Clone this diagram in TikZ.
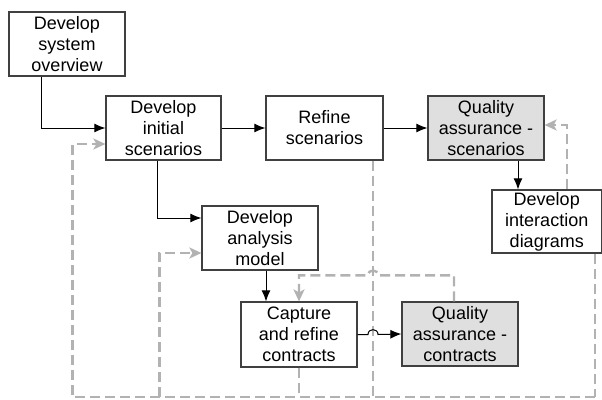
\documentclass[tikz,border=0pt]{standalone}
\usepackage{fontspec}
\setmainfont{Liberation Sans}
\usetikzlibrary{arrows.meta,calc}
\begin{document}
\begin{tikzpicture}[x=1pt,y=-1pt,
 box/.style={draw=black!75, line width=1.2pt, fill=white, align=center, inner sep=0pt,
   font=\fontsize{18}{21}\selectfont, minimum width=116pt, minimum height=64pt},
 qa/.style={box, fill=gray!25},
 flow/.style={draw=black, line width=1pt, -{Latex[length=11pt,width=9pt]}},
 fb/.style={draw=black!30, line width=2.4pt, dash pattern=on 10pt off 5pt},
 fbarrow/.style={fb, -{Stealth[length=12pt,width=11pt,inset=3pt]}},
]
\useasboundingbox (0,0) rectangle (602,399);

\node[box] (overview) at (67,44) {Develop\\system\\overview};
\node[box, minimum width=115pt] (initial) at (163.5,128) {Develop\\initial\\scenarios};
\node[box, minimum width=117pt] (refine) at (324.5,128) {Refine\\scenarios};
\node[qa] (qas) at (486,128) {Quality\\assurance -\\scenarios};
\node[box, minimum width=109.5pt, minimum height=63pt] (interact) at (546.75,221.5) {Develop\\interaction\\diagrams};
\node[box] (analysis) at (260,238) {Develop\\analysis\\model};
\node[box, minimum height=65pt] (capture) at (299,334.5) {Capture\\and refine\\contracts};
\node[qa] (qac) at (460,334) {Quality\\assurance -\\contracts};

% helper coordinates
\coordinate (bus) at (0,397);
\coordinate (o1) at ($(overview.south)+(-25.3,0)$);
\coordinate (i1) at ($(initial.south)+(-6.5,0)$);
\coordinate (a1) at ($(analysis.south)+(6,0)$);
\coordinate (q1) at ($(qas.south)+(32,0)$);
\coordinate (r1) at ($(refine.south)+(48.5,0)$);
\coordinate (d1) at ($(interact.south)+(48.25,0)$);
\coordinate (g1) at ($(interact.north)+(20.25,0)$);
\coordinate (g2) at ($(qas.east)+(0,-3)$);
\coordinate (e1) at ($(initial.west)+(0,16)$);
\coordinate (e1b) at ($(e1)+(-33,0)$);
\coordinate (e2) at ($(analysis.west)+(0,15)$);
\coordinate (e2b) at ($(e2)+(-42,0)$);
\coordinate (c1) at ($(qac.north)+(-6,0)$);
\coordinate (ct) at ($(capture.north)+(0,-26)$);

% gray dashed feedback
\draw[fb] (r1) -- (r1 |- bus);
\draw[fb] (capture.south) -- (capture.south |- bus);
\draw[fb] (d1) -- (d1 |- bus);
\draw[fbarrow] (d1 |- bus) -| (e1b) -- (e1);
\draw[fbarrow] (e2b |- bus) -- (e2b) -- (e2);
\draw[fbarrow] (g1) |- (g2);
\draw[fbarrow] (c1) -- (c1 |- ct) -- ($(r1 |- ct)+(5,0)$)
  .. controls +(0,-6.5) and +(0,-6.5) .. ($(r1 |- ct)+(-5,0)$) -- (ct) -- (capture.north);

% black flow
\draw[flow] (o1) |- (initial.west);
\draw[flow] (initial.east) -- (refine.west);
\draw[flow] (refine.east) -- (qas.west);
\draw[flow] (q1) -- (q1 |- interact.north);
\draw[flow] (i1) |- ($(analysis.west)+(0,-20)$);
\draw[flow] (a1) -- (a1 |- capture.north);
\draw[flow] (capture.east) -- ($(r1 |- capture.east)+(-5,0)$)
  .. controls +(0,-6.5) and +(0,-6.5) .. ($(r1 |- capture.east)+(5,0)$) -- (qac.west);
\end{tikzpicture}
\end{document}
